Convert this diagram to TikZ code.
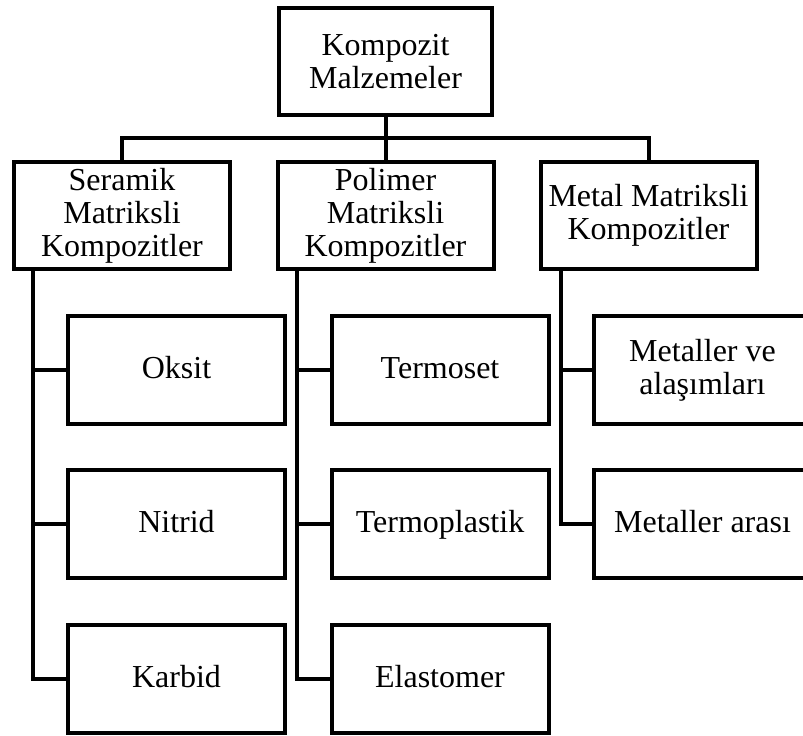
\documentclass[tikz,border=0pt]{standalone}
\usepackage{fontspec}
\setmainfont{Liberation Serif}
\begin{document}
\begin{tikzpicture}[
  x=0.5pt, y=-0.5pt,
  box/.style={rectangle,draw,line width=2pt,fill=white,minimum width=108pt,minimum height=53.5pt,align=center,inner sep=2pt,font=\fontsize{16}{16.5}\selectfont},
  leaf/.style={box,minimum width=108.5pt,minimum height=54pt},
  word/.style={leaf,text height=11pt,text depth=2.5pt},
  link/.style={line width=2pt}
]
\useasboundingbox (0,0) rectangle (803,735);
% top level
\node[box,minimum width=106.5pt] (kompozit) at (385.5,61.5) {Kompozit\\Malzemeler};
% matrix types
\node[box] (seramik) at (122,215.5) {Seramik\\Matriksli\\Kompozitler};
\node[box] (polimer) at (385.5,215.5) {Polimer\\Matriksli\\Kompozitler};
\node[box] (metal) at (648.5,215.5) {Metal Matriksli\\Kompozitler};
% ceramic
\node[word] (oksit) at (176.5,370) {Oksit};
\node[word] (nitrid) at (176.5,524) {Nitrid};
\node[word] (karbid) at (176.5,679) {Karbid};
% polymer
\node[word] (termoset) at (440,370) {Termoset};
\node[word] (termoplastik) at (440,524) {Termoplastik};
\node[word] (elastomer) at (440,679) {Elastomer};
% metal
\node[leaf] (alasim) at (702.5,370) {Metaller ve\\alaşımları};
\node[word] (arasi) at (702.5,524) {Metaller arası};
% connectors
\coordinate (bar) at (385.5,138);
\draw[link] (kompozit.south) -- (polimer.north);
\draw[link] (seramik.north) |- (bar) -| (metal.north);
\foreach \leafname in {oksit,nitrid,karbid}
  \draw[link] ([xshift=10.5pt]seramik.south west) |- (\leafname.west);
\foreach \leafname in {termoset,termoplastik,elastomer}
  \draw[link] ([xshift=10.5pt]polimer.south west) |- (\leafname.west);
\foreach \leafname in {alasim,arasi}
  \draw[link] ([xshift=11pt]metal.south west) |- (\leafname.west);
\end{tikzpicture}
\end{document}
